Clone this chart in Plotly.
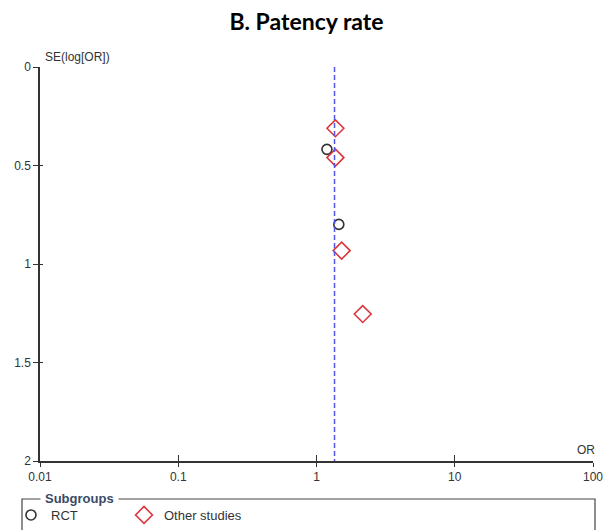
import plotly.graph_objects as go

# Data
rct_or = [1.19, 1.45]
rct_se = [0.418, 0.799]
other_or = [1.37, 1.37, 1.52, 2.16]
other_se = [0.311, 0.46, 0.932, 1.254]
pooled_or = 1.35
x_tickvals = [0.01, 0.1, 1, 10, 100]
x_ticktext = ["0.01", "0.1", "1", "10", "100"]
y_tickvals = [0, 0.5, 1, 1.5, 2]
y_ticktext = ["0", "0.5", "1", "1.5", "2"]

AX = "#333333"
FONT = "Liberation Sans, Arial, sans-serif"

fig = go.Figure()

fig.add_trace(go.Scatter(
    x=[pooled_or, pooled_or], y=[0, 2], mode="lines",
    line=dict(color="#5555e6", width=1.5, dash="5px,3px"),
    showlegend=False, hoverinfo="skip", xaxis="x2", yaxis="y2"))

fig.add_trace(go.Scatter(
    x=rct_or, y=rct_se, mode="markers", name="RCT", legend="legend",
    marker=dict(symbol="circle-open", size=10, color="#333333",
                line=dict(width=1.6, color="#333333"))))

fig.add_trace(go.Scatter(
    x=other_or, y=other_se, mode="markers", name="Other studies", legend="legend2",
    marker=dict(symbol="diamond-open", size=13, color="#d9373d",
                line=dict(width=1.6, color="#d9373d"))))

common_x = dict(type="log", range=[-2, 2], showgrid=False, zeroline=False,
                tickvals=x_tickvals, ticktext=x_ticktext)
common_y = dict(range=[2, 0], autorange=False, showgrid=False, zeroline=False,
                tickvals=y_tickvals, ticktext=y_ticktext)

legend_common = dict(orientation="h", xanchor="left", y=(461 - 515) / 394, yanchor="middle",
                     bgcolor="rgba(0,0,0,0)", font=dict(family=FONT, size=13, color=AX))

fig.update_layout(
    width=613, height=530,
    margin=dict(l=40, r=20, t=67, b=69, autoexpand=False),
    paper_bgcolor="white", plot_bgcolor="white",
    font=dict(family=FONT, size=12, color=AX),
    title=dict(text="<b>B. Patency rate</b>", x=0.5, xanchor="center",
               y=1 - 22 / 530, yref="container", yanchor="middle",
               font=dict(family="Lato, Open Sans, sans-serif", size=23, color="#000000")),
    xaxis=dict(**common_x, showline=True, linecolor=AX, linewidth=1.5,
               ticks="outside", ticklen=4, tickwidth=1.2, tickcolor=AX,
               tickfont=dict(size=12, color=AX), anchor="y"),
    yaxis=dict(**common_y, showline=True, linecolor=AX, linewidth=1.5,
               ticks="outside", ticklen=5, tickwidth=1.2, tickcolor=AX,
               tickfont=dict(size=12, color=AX), anchor="x"),
    xaxis2=dict(**common_x, overlaying="x", anchor="y", side="bottom",
                ticks="inside", ticklen=6, tickwidth=1.2, tickcolor=AX,
                showticklabels=False, showline=False),
    yaxis2=dict(**common_y, overlaying="y", anchor="x", side="left",
                ticks="inside", ticklen=3, tickwidth=1.2, tickcolor=AX,
                showticklabels=False, showline=False),
    legend=dict(**legend_common, x=(11 - 40) / 553),
    legend2=dict(**legend_common, x=(124 - 40) / 553),
)

# legend frame
fig.add_shape(type="rect", xref="paper", yref="paper",
              x0=(22 - 40) / 553, x1=(595 - 40) / 553,
              y0=(461 - 540) / 394, y1=(461 - 499) / 394,
              line=dict(color="#444444", width=1.2), fillcolor="rgba(0,0,0,0)")

fig.add_annotation(text="<b>Subgroups</b>", xref="paper", yref="paper",
                   x=(40 - 40) / 553, y=(461 - 498) / 394, xanchor="left", yanchor="middle",
                   showarrow=False, bgcolor="white", borderpad=4,
                   font=dict(family=FONT, size=13, color="#3b4a66"))

fig.add_annotation(text="SE(log[OR])", xref="paper", yref="paper",
                   x=(43 - 40) / 553, y=(461 - 57) / 394, xanchor="left", yanchor="middle",
                   showarrow=False, font=dict(family=FONT, size=12, color=AX))

fig.add_annotation(text="OR", xref="paper", yref="paper",
                   x=(586 - 40) / 553, y=(461 - 450) / 394, xanchor="center", yanchor="middle",
                   showarrow=False, font=dict(family=FONT, size=12, color=AX))

fig.write_html("out.html")
